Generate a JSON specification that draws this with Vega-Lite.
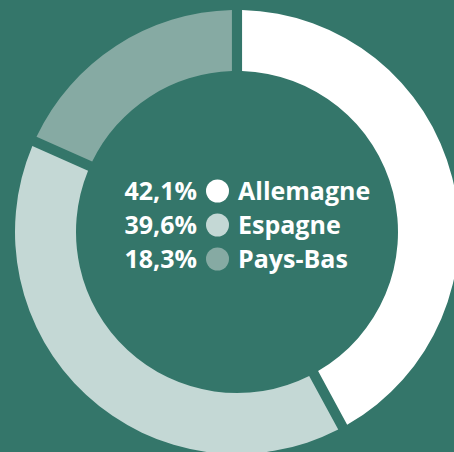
{
  "$schema": "https://vega.github.io/schema/vega-lite/v6.json",
  "width": 434,
  "height": 440,
  "autosize": {"type": "none"},
  "padding": {"left": 20, "top": 12, "right": 0, "bottom": 0},
  "background": "#34766a",
  "config": {"view": {"stroke": null}},
  "data": {
    "values": [
      {"pays": "Allemagne", "part": 42.1, "libelle": "42,1%"},
      {"pays": "Espagne", "part": 39.6, "libelle": "39,6%"},
      {"pays": "Pays-Bas", "part": 18.3, "libelle": "18,3%"}
    ]
  },
  "layer": [
    {
      "mark": {"type": "arc", "outerRadius": 222, "innerRadius": 161, "padAngle": 0.037},
      "encoding": {
        "theta": {"field": "part", "type": "quantitative", "stack": true},
        "color": {
          "field": "pays",
          "type": "nominal",
          "scale": {"domain": ["Allemagne", "Espagne", "Pays-Bas"], "range": ["#ffffff", "#c4d8d5", "#86aaa3"]},
          "legend": null
        },
        "order": {"field": "pays", "sort": "ascending"}
      }
    },
    {
      "mark": {"type": "text", "align": "right", "baseline": "alphabetic", "font": "Open Sans", "fontWeight": "bold", "fontSize": 25, "color": "#ffffff"},
      "encoding": {
        "x": {"datum": 0, "type": "quantitative", "scale": {"domain": [0, 1], "range": [177, 218], "zero": false, "nice": false}, "axis": null},
        "y": {"field": "pays", "type": "nominal", "scale": {"type": "point", "domain": ["Allemagne", "Espagne", "Pays-Bas"], "range": [188, 256], "padding": 0}, "axis": null},
        "text": {"field": "libelle"}
      }
    },
    {
      "mark": {"type": "point", "shape": "circle", "filled": true, "opacity": 1, "size": 529, "yOffset": -9},
      "encoding": {
        "x": {"datum": 0.5, "type": "quantitative"},
        "y": {"field": "pays", "type": "nominal"},
        "color": {"field": "pays", "type": "nominal"}
      }
    },
    {
      "mark": {"type": "text", "align": "left", "baseline": "alphabetic", "font": "Open Sans", "fontWeight": "bold", "fontSize": 25, "color": "#ffffff"},
      "encoding": {
        "x": {"datum": 1, "type": "quantitative"},
        "y": {"field": "pays", "type": "nominal"},
        "text": {"field": "pays"}
      }
    }
  ]
}
